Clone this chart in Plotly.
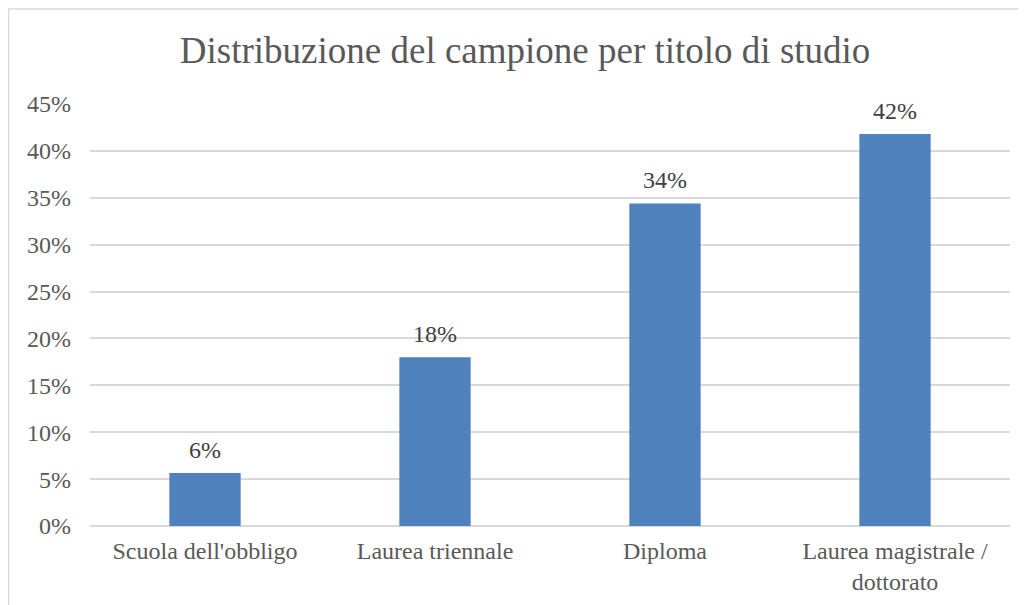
import plotly.graph_objects as go

categories = ["Scuola dell'obbligo", "Laurea triennale", "Diploma", "Laurea magistrale /<br>dottorato"]
values = [0.0565, 0.180, 0.344, 0.418]
tick_vals = [0, 0.05, 0.10, 0.15, 0.20, 0.25, 0.30, 0.35, 0.40, 0.45]
tick_text = ["0%", "5%", "10%", "15%", "20%", "25%", "30%", "35%", "40%", "45%"]

FONT = "Liberation Serif, Times New Roman, serif"
TXT = "#595959"

fig = go.Figure(go.Bar(
    x=categories, y=values,
    marker=dict(color="#4F81BD", line=dict(width=0)),
    width=0.31,
))

for c, v in zip(categories, values):
    fig.add_annotation(x=c, y=v, text=f"{v:.0%}", showarrow=False,
                       xanchor="center", yanchor="bottom", yshift=8,
                       font=dict(family=FONT, size=24, color="#404040"))

fig.update_layout(
    width=1026, height=605,
    margin=dict(l=82, r=24, t=96, b=87),
    paper_bgcolor="white", plot_bgcolor="white",
    showlegend=False,
    title=dict(text="Distribuzione del campione per titolo di studio",
               x=0.504, xanchor="center", y=0.930, yanchor="middle",
               font=dict(family=FONT, size=37, color=TXT)),
    font=dict(family=FONT, size=24, color=TXT),
)
fig.update_xaxes(showgrid=False, showline=False, ticks="", ticklabelstandoff=8,
                 tickfont=dict(family=FONT, size=24, color=TXT))
fig.update_yaxes(range=[0, 0.45], tickvals=tick_vals, ticktext=tick_text,
                 showgrid=True, gridcolor="#D9D9D9", gridwidth=1.5,
                 zeroline=True, zerolinecolor="#D9D9D9", zerolinewidth=1.5,
                 ticks="", ticklabelstandoff=18,
                 tickfont=dict(family=FONT, size=24, color=TXT))

fig.add_shape(type="rect", xref="paper", yref="paper",
              x0=(0.5 - 82) / 920, x1=(1040 - 82) / 920,
              y0=(518 - 620) / 422, y1=(518 - 1) / 422,
              line=dict(color="#D9D9D9", width=1.5), fillcolor="rgba(0,0,0,0)", layer="below")

fig.write_html("out.html")
